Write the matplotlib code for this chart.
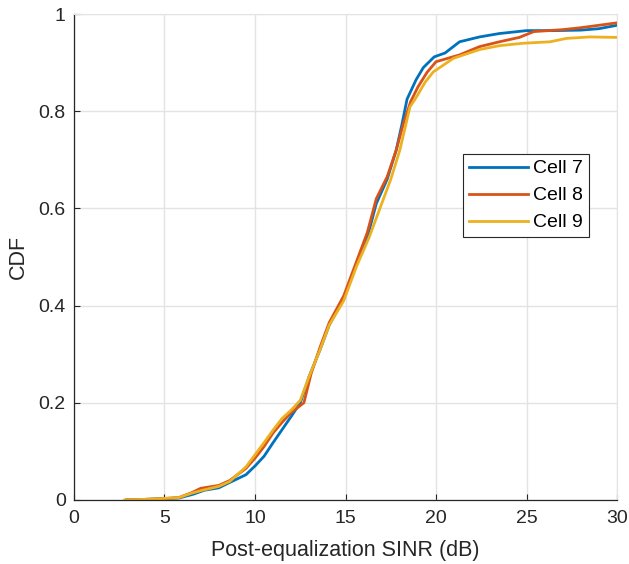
import matplotlib
matplotlib.use("Agg")
import matplotlib.pyplot as plt
from matplotlib.ticker import FuncFormatter

plt.rcParams["font.family"] = ["Liberation Sans", "DejaVu Sans"]

# empirical CDF of post-equalization SINR, one curve per cell
cell7_sinr = [2.9, 4.5, 5.8, 6.6, 7.2, 8.0, 8.6, 9.5, 10.0, 10.5, 11.0, 11.5, 12.0, 12.5, 13.0, 13.6,
              14.1, 14.9, 15.6, 16.2, 16.7, 17.3, 17.8, 18.1, 18.4, 18.9, 19.3, 19.9, 20.5, 21.3, 22.4,
              23.5, 25.0, 26.5, 28.0, 29.0, 30.0]
cell7_cdf = [0.0, 0.002, 0.004, 0.012, 0.02, 0.025, 0.036, 0.052, 0.07, 0.09, 0.118, 0.145, 0.172, 0.2,
             0.255, 0.31, 0.36, 0.415, 0.485, 0.54, 0.61, 0.66, 0.72, 0.77, 0.825, 0.865, 0.89, 0.912,
             0.92, 0.943, 0.953, 0.96, 0.966, 0.966, 0.967, 0.97, 0.977]

cell8_sinr = [2.9, 4.5, 5.8, 6.5, 7.0, 8.0, 8.6, 9.5, 10.0, 10.5, 11.0, 11.5, 12.0, 12.7, 13.1, 13.6,
              14.1, 14.9, 15.6, 16.2, 16.7, 17.3, 17.8, 18.2, 18.6, 19.0, 19.5, 20.0, 21.3, 22.4, 23.5,
              24.6, 25.4, 27.0, 28.0, 30.0]
cell8_cdf = [0.0, 0.002, 0.005, 0.015, 0.024, 0.03, 0.04, 0.065, 0.086, 0.11, 0.138, 0.16, 0.18, 0.2,
             0.26, 0.315, 0.365, 0.42, 0.49, 0.55, 0.62, 0.665, 0.72, 0.775, 0.82, 0.85, 0.88, 0.902,
             0.916, 0.933, 0.943, 0.952, 0.964, 0.968, 0.972, 0.982]

cell9_sinr = [2.8, 4.5, 5.8, 6.5, 7.1, 8.0, 8.6, 9.5, 10.0, 10.5, 11.0, 11.5, 12.0, 12.5, 13.0, 13.6,
              14.1, 14.9, 15.6, 16.3, 16.9, 17.5, 18.0, 18.56, 18.93, 19.4, 19.85, 20.96, 22.4, 23.5,
              24.8, 26.3, 27.2, 28.5, 30.0]
cell9_cdf = [0.0, 0.002, 0.005, 0.014, 0.02, 0.028, 0.038, 0.068, 0.093, 0.118, 0.144, 0.168, 0.185,
             0.205, 0.255, 0.31, 0.36, 0.41, 0.48, 0.54, 0.60, 0.66, 0.72, 0.809, 0.83, 0.86, 0.881,
             0.909, 0.927, 0.935, 0.94, 0.943, 0.95, 0.953, 0.952]

x_ticks = [0, 5, 10, 15, 20, 25, 30]
y_ticks = [0, 0.2, 0.4, 0.6, 0.8, 1]

colors = ["#0072BD", "#D95319", "#EDB120"]

fig = plt.figure(figsize=(6.29, 5.64), dpi=100)
ax = fig.add_axes([0.1176, 0.1135, 0.8634, 0.8615])

ax.plot(cell7_sinr, cell7_cdf, color=colors[0], linewidth=2, label="Cell 7")
ax.plot(cell8_sinr, cell8_cdf, color=colors[1], linewidth=2, label="Cell 8")
ax.plot(cell9_sinr, cell9_cdf, color=colors[2], linewidth=2, label="Cell 9")

ax.set_xlim(0, 30)
ax.set_ylim(0, 1)
ax.set_xticks(x_ticks)
ax.set_yticks(y_ticks)
ax.yaxis.set_major_formatter(FuncFormatter(lambda v, _: f"{v:g}"))
ax.grid(True, color="#e3e3e3", linewidth=1)
ax.set_axisbelow(True)

for side in ("top", "right"):
    ax.spines[side].set_color("#e3e3e3")
for side in ("left", "bottom"):
    ax.spines[side].set_color("#262626")
    ax.spines[side].set_linewidth(0.9)
ax.tick_params(direction="in", length=4, colors="#262626", labelsize=14)
ax.tick_params(axis="x", pad=7)
ax.tick_params(axis="y", pad=6)
ax.tick_params(top=False, right=False)

ax.set_xlabel("Post-equalization SINR (dB)", fontsize=15.5, color="#262626")
ax.set_ylabel("CDF", fontsize=15.5, color="#262626")
ax.xaxis.set_label_coords(0.5, -0.103)
ax.xaxis.label.set_va("center")
ax.yaxis.set_label_coords(-0.103, 0.5)
ax.yaxis.label.set_va("center")

leg = ax.legend(loc="upper left", bbox_to_anchor=(0.716, 0.712), fontsize=14,
                handlelength=3.05, handletextpad=0.25, borderpad=0.3, labelspacing=0.48,
                borderaxespad=0, fancybox=False, framealpha=1, edgecolor="#262626")
leg.get_frame().set_linewidth(0.8)

fig.savefig("out.png", dpi=100)
